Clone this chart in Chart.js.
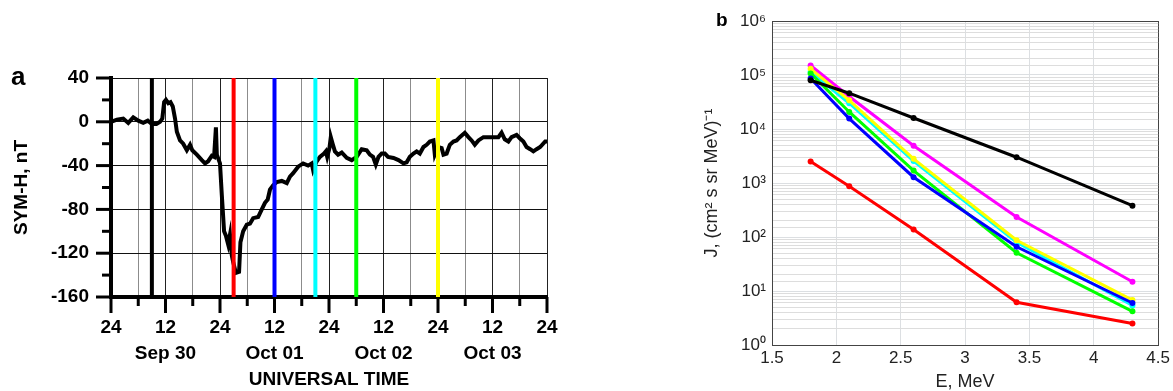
<!DOCTYPE html>
<html>
<head>
<meta charset="utf-8">
<script src="https://cdn.jsdelivr.net/npm/chart.js@4.4.1/dist/chart.umd.min.js"></script>
<style>
  body { margin: 0; background: #fff; }
  #wrap { position: relative; width: 1173px; height: 391px; overflow: hidden; }
  #symh { position: absolute; left: 0; top: 0; }
  #spec { position: absolute; left: 680px; top: 0; }
</style>
</head>
<body>
<div id="wrap">
  <canvas id="symh" width="580" height="391"></canvas>
  <canvas id="spec" width="493" height="391"></canvas>
</div>
<script>
// ---- panel a: SYM-H index, hours from Sep 30 00:00 UT ----
const symHours = [
  0, 1.3, 2.7, 3.8, 4.9, 6, 7.1, 8.1, 9, 10, 10.8, 11.3, 11.7, 12.1, 12.6, 13.1, 13.6,
  14.1, 14.5, 15.2, 15.9, 16.7, 17.4, 17.9, 18.9, 20, 20.7, 21.4, 22.2, 22.7, 23.1, 23.3,
  24, 24.4, 24.9, 25.3, 25.8, 26.2, 26.6, 26.9, 27.5, 28.2, 28.5, 29.1, 29.9, 30.6, 31.3,
  32.4, 33.2, 33.9, 34.5, 35, 35.7, 36.5, 37.6, 38.7, 39.4, 40.1, 41.2, 42.3, 43.4, 44.2,
  44.5, 45.3, 46, 46.9, 47.3, 47.6, 48.1, 48.4, 48.8, 49.3, 50, 50.8, 51.9, 53, 54.1, 55.2,
  56.3, 57, 57.7, 58.3, 58.9, 59.6, 60.3, 61, 62.2, 63.3, 64.4, 65.1, 65.8, 66.6, 67.3, 68,
  68.8, 69.5, 70.2, 71, 71.3, 72, 72.8, 73.2, 73.9, 74.6, 75.4, 76.1, 76.8, 77.9, 78.7,
  79.4, 80.1, 80.9, 82, 83.1, 84.2, 85.3, 86, 86.7, 87.5, 88.2, 89.3, 90, 90.8, 91.5, 92.3,
  93, 93.7, 94.5, 95.6, 96
];
const symValues = [
  0, 2, 3, -1, 4, 1, -1, 1, -2, -2, 0, 3, 18, 20, 17, 18, 14,
  3, -9, -17, -20, -26, -21, -26, -30, -35, -38, -36, -31, -32, -5, -30,
  -38, -67, -100, -104, -112, -103, -122, -128, -138, -137, -110, -100, -94, -93, -88,
  -87, -80, -74, -71, -62, -58, -55, -54, -56, -50, -47, -41, -38, -40, -38,
  -44, -36, -32, -29, -27, -32, -24, -14, -20, -27, -30, -28, -33, -35, -32, -25,
  -26, -30, -32, -39, -32, -29, -29, -32, -33, -35, -38, -37, -32, -29, -27, -29,
  -23, -21, -18, -17, -30, -23, -24, -30, -29, -21, -18, -17, -14, -10, -14,
  -17, -21, -17, -14, -14, -14, -14, -10, -16, -18, -14, -12, -15, -18, -23, -25,
  -27, -25, -23, -18, -18
];
// times of the spectra shown in panel b
const eventHours = [9, 27, 36, 45, 54, 72];
const eventColors = ["#000000", "#ff0000", "#0000ff", "#00ffff", "#00ff00", "#ffff00"];
const dayNames = ["Sep 30", "Oct 01", "Oct 02", "Oct 03"];
const symMin = -160;
const symMax = 40;

// ---- panel b: electron spectra ----
const energies = [1.8, 2.1, 2.6, 3.4, 4.3];
const fluxBlack = [8.0e4, 4.6e4, 1.6e4, 3.0e3, 380];
const fluxRed = [2.5e3, 870, 138, 6.2, 2.5];
const fluxBlue = [8.6e4, 1.56e4, 1.28e3, 66, 6.0];
const fluxGreen = [1.07e5, 2.07e4, 1.7e3, 51, 4.2];
const fluxYellow = [1.3e5, 3.4e4, 2.8e3, 87, 6.8];
const fluxCyan = [1.15e5, 3.0e4, 2.55e3, 80, 5.4];
const fluxMagenta = [1.5e5, 4.0e4, 4.9e3, 235, 14.8];

Chart.defaults.font.family = '"Liberation Sans", Arial, sans-serif';
Chart.defaults.color = "#000";

// tick marks outside the plot + panel letter
const symTicks = {
  id: "symTicks",
  afterDraw(chart) {
    const { ctx, chartArea, scales: { x, y } } = chart;
    ctx.save();
    ctx.strokeStyle = "#000";
    ctx.lineWidth = 3;
    for (let h = 0; h <= 96; h += 6) {
      const px = x.getPixelForValue(h);
      ctx.beginPath();
      ctx.moveTo(px, chartArea.bottom);
      ctx.lineTo(px, chartArea.bottom + (h % 12 === 0 ? 16 : 9));
      ctx.stroke();
    }
    for (let v = symMin; v <= symMax; v += 20) {
      const py = y.getPixelForValue(v);
      ctx.beginPath();
      ctx.moveTo(chartArea.left, py);
      ctx.lineTo(chartArea.left - (v % 40 === 0 ? 15 : 9), py);
      ctx.stroke();
    }
    ctx.fillStyle = "#000";
    ctx.font = 'bold 26px "Liberation Sans", Arial, sans-serif';
    ctx.fillText("a", 11, 85);
    ctx.restore();
  }
};

const eventSets = eventHours.map((h, i) => ({
  data: [{ x: h, y: symMin }, { x: h, y: symMax }],
  borderColor: eventColors[i],
  borderWidth: 4,
  pointRadius: 0
}));

new Chart(document.getElementById("symh"), {
  type: "line",
  data: {
    datasets: [
      ...eventSets,
      {
        data: symHours.map((h, i) => ({ x: h, y: symValues[i] })),
        borderColor: "#000",
        borderWidth: 4,
        pointRadius: 0,
        tension: 0
      }
    ]
  },
  options: {
    responsive: false,
    animation: false,
    layout: { padding: { left: 0, right: 33, top: 78, bottom: 0 } },
    plugins: { legend: { display: false }, tooltip: { enabled: false } },
    scales: {
      x: {
        type: "linear",
        min: 0,
        max: 96,
        afterBuildTicks: (s) => {
          s.ticks = [];
          for (let h = 0; h <= 96; h += 6) s.ticks.push({ value: h });
        },
        afterFit: (s) => { s.height = 94; },
        ticks: {
          autoSkip: false,
          maxRotation: 0,
          padding: 17,
          font: { size: 19, weight: "bold", lineHeight: 1.4 },
          callback: (v) => {
            if (v % 24 === 0) return "24";
            if (v % 12 === 0) return ["12", dayNames[Math.floor(v / 24)]];
            return "";
          }
        },
        grid: {
          drawTicks: false,
          lineWidth: 1,
          color: (c) => (c.tick && c.tick.value % 12 === 0 ? "#222" : "#8c8c8c")
        },
        border: { color: "#000", width: 4 },
        title: {
          display: true,
          text: "UNIVERSAL TIME",
          font: { size: 19, weight: "bold", lineHeight: 1.2 },
          padding: { top: 0, bottom: 0 }
        }
      },
      y: {
        min: symMin,
        max: symMax,
        afterFit: (s) => { s.width = 111; },
        ticks: {
          stepSize: 20,
          padding: 22,
          font: { size: 19, weight: "bold" },
          callback: (v) => (v % 40 === 0 ? String(v) : "")
        },
        grid: {
          drawTicks: false,
          lineWidth: 1,
          color: (c) => (c.tick && c.tick.value % 40 === 0 ? "#111" : "rgba(0,0,0,0)")
        },
        border: { color: "#000", width: 4 },
        title: {
          display: true,
          text: "SYM-H, nT",
          font: { size: 19, weight: "bold", lineHeight: 1.2 },
          padding: { top: 10, bottom: 0 }
        }
      }
    }
  },
  plugins: [symTicks]
});

// ---- panel b chart ----
const sup = ["\u2070", "\u00b9", "\u00b2", "\u00b3", "\u2074", "\u2075", "\u2076"];
const isDecade = (v) => {
  const e = Math.round(Math.log10(v));
  return Math.abs(v - Math.pow(10, e)) < 1e-6 * v;
};

const specLetter = {
  id: "specLetter",
  afterDraw(chart) {
    const ctx = chart.ctx;
    ctx.save();
    ctx.fillStyle = "#000";
    ctx.font = 'bold 19px "Liberation Sans", Arial, sans-serif';
    ctx.fillText("b", 36, 26);
    ctx.restore();
  }
};

const spectra = [
  { flux: fluxBlack, color: "#000000" },
  { flux: fluxRed, color: "#ff0000" },
  { flux: fluxBlue, color: "#0000ff" },
  { flux: fluxGreen, color: "#00ff00" },
  { flux: fluxYellow, color: "#ffff00" },
  { flux: fluxCyan, color: "#00ffff" },
  { flux: fluxMagenta, color: "#ff00ff" }
];

new Chart(document.getElementById("spec"), {
  type: "line",
  data: {
    datasets: spectra.map((s) => ({
      data: energies.map((e, i) => ({ x: e, y: s.flux[i] })),
      borderColor: s.color,
      backgroundColor: s.color,
      borderWidth: 3,
      pointRadius: 3,
      pointBorderWidth: 0,
      tension: 0
    }))
  },
  options: {
    responsive: false,
    animation: false,
    layout: { padding: { left: 0, right: 11, top: 21, bottom: 0 } },
    plugins: { legend: { display: false }, tooltip: { enabled: false } },
    scales: {
      x: {
        type: "linear",
        min: 1.5,
        max: 4.5,
        afterFit: (s) => { s.height = 46; },
        ticks: {
          stepSize: 0.5,
          padding: 3,
          color: "#222",
          font: { size: 17 },
          callback: (v) => String(v)
        },
        grid: {
          drawTicks: false,
          color: (c) => (c.tick && c.tick.value >= 4.5 ? "#444" : "#dcdfe2")
        },
        border: { color: "#444", width: 1 },
        title: {
          display: true,
          text: "E, MeV",
          color: "#222",
          font: { size: 18, lineHeight: 1 },
          padding: { top: 0, bottom: 0 }
        }
      },
      y: {
        type: "logarithmic",
        min: 1,
        max: 1e6,
        afterFit: (s) => { s.width = 92; },
        ticks: {
          autoSkip: false,
          padding: 6,
          color: "#222",
          font: { size: 17 },
          callback: (v) => (isDecade(v) ? "10" + sup[Math.round(Math.log10(v))] : "")
        },
        grid: {
          drawTicks: false,
          color: (c) => {
            if (!c.tick) return "#dcdfe2";
            if (c.tick.value >= 1e6) return "#444";
            return isDecade(c.tick.value) ? "#dcdfe2" : "#dddddd";
          },
          borderDash: (c) => (c.tick && !isDecade(c.tick.value) ? [1, 2] : [])
        },
        border: { color: "#444", width: 1 },
        title: {
          display: true,
          text: "J, (cm\u00b2 s sr MeV)\u207b\u00b9",
          color: "#222",
          font: { size: 18, lineHeight: 1.2 },
          padding: { top: 21, bottom: 0 }
        }
      }
    }
  },
  plugins: [specLetter]
});
</script>
</body>
</html>
